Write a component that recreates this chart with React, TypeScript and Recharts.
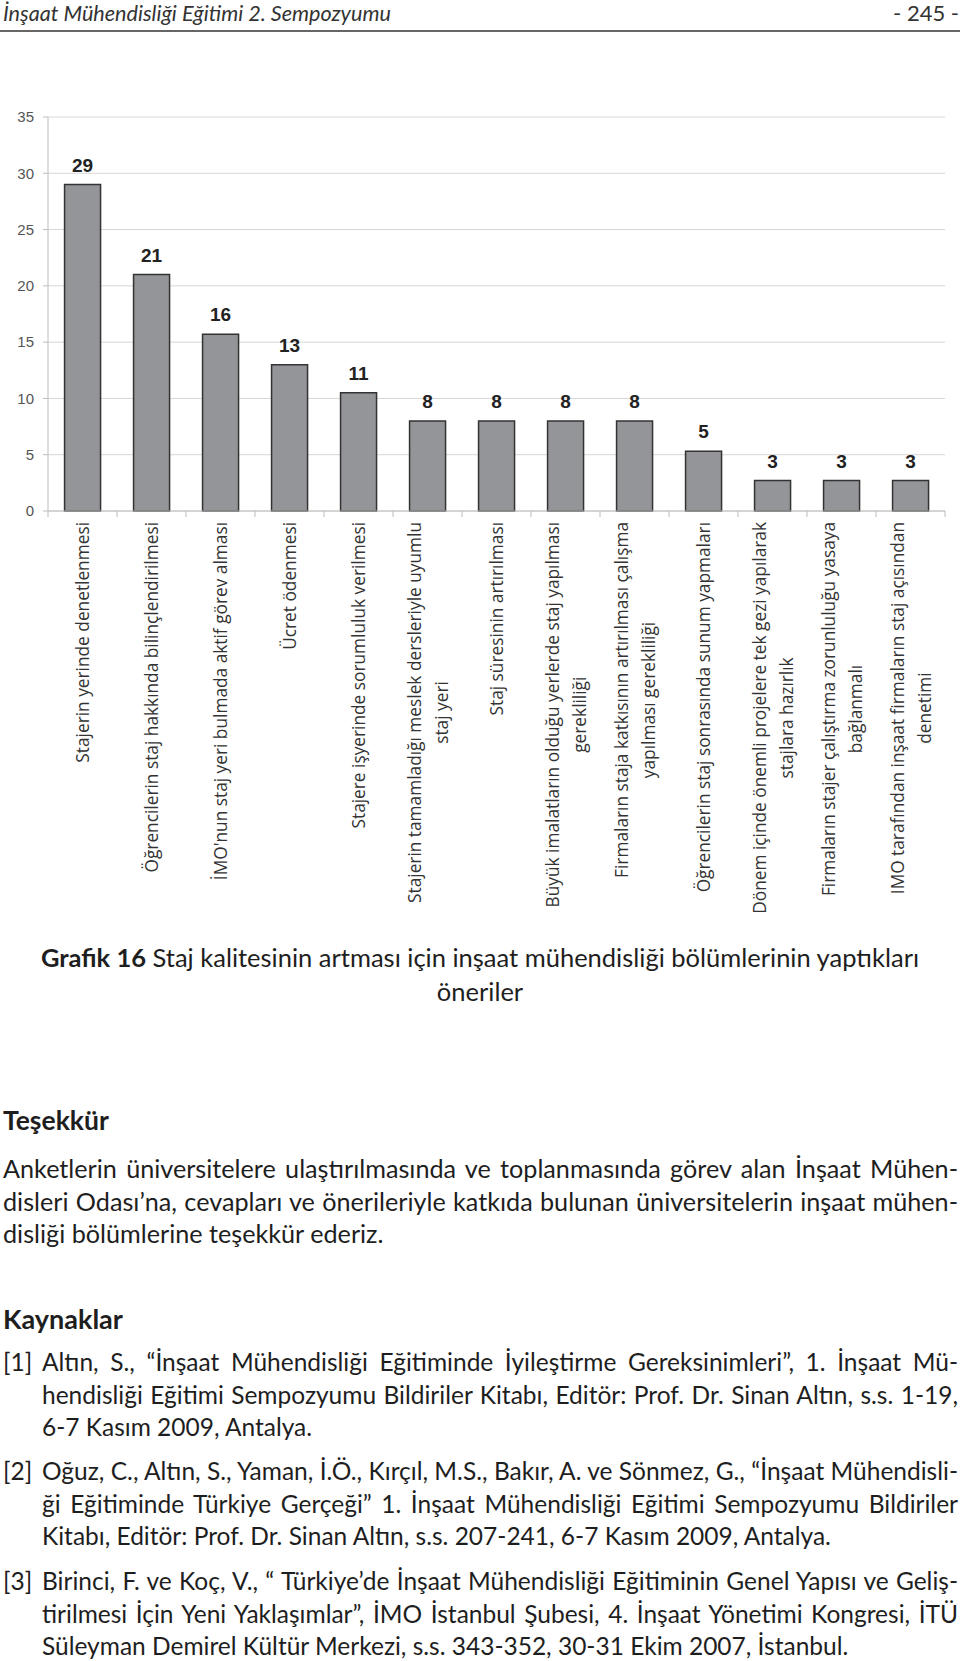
import { Bar, BarChart, CartesianGrid, LabelList, XAxis, YAxis } from 'recharts'

const categories = [
  'Stajerin yerinde denetlenmesi',
  'Öğrencilerin staj hakkında bilinçlendirilmesi',
  "İMO'nun staj yeri bulmada aktif görev alması",
  'Ücret ödenmesi',
  'Stajere işyerinde sorumluluk verilmesi',
  'Stajerin tamamladığı meslek dersleriyle uyumlu\nstaj yeri',
  'Staj süresinin artırılması',
  'Büyük imalatların olduğu yerlerde staj yapılması\ngerekliliği',
  'Firmaların staja katkısının artırılması çalışma\nyapılması gerekliliği',
  'Öğrencilerin staj sonrasında sunum yapmaları',
  'Dönem içinde önemli projelere tek gezi yapılarak\nstajlara hazırlık',
  'Firmaların stajer çalıştırma zorunluluğu yasaya\nbağlanmalı',
  'IMO tarafından inşaat firmaların staj açısından\ndenetimi',
]

// bar heights as drawn (labels show them rounded)
const counts = [29, 21, 15.7, 13, 10.5, 8, 8, 8, 8, 5.3, 2.7, 2.7, 2.7]

const yTicks = [0, 5, 10, 15, 20, 25, 30, 35]

const data = categories.map((name, i) => ({ name, value: counts[i] }))

const LABEL_SIZE = 17.3
const LABEL_FONT = `${LABEL_SIZE}px 'Open Sans'`

let ctx: CanvasRenderingContext2D | null = null
function textWidth(s: string) {
  if (!ctx) ctx = document.createElement('canvas').getContext('2d')
  if (!ctx) return s.length * 8
  ctx.font = LABEL_FONT
  return ctx.measureText(s).width
}

function CategoryTick(props: any) {
  const { x, y, payload, index } = props
  const half = payload.offset || 34.5
  const lines = String(payload.value).split('\n')
  const w = Math.max(...lines.map(textWidth))
  const last = index === categories.length - 1
  return (
    <g transform={`translate(${x},${y})`}>
      <line x1={-half} x2={-half} y1={0} y2={6} stroke="#bdbdbd" />
      {last && <line x1={half} x2={half} y1={0} y2={6} stroke="#bdbdbd" />}
      {lines.map((line, i) => (
        <text
          key={i}
          transform={`translate(${(i - (lines.length - 1) / 2) * 27},${11 + w / 2}) rotate(-90)`}
          textAnchor="middle"
          dominantBaseline="central"
          fontFamily="'Open Sans'"
          fontSize={LABEL_SIZE}
          fill="#333"
        >
          {line}
        </text>
      ))}
    </g>
  )
}

const thanks = [
  'Anketlerin üniversitelere ulaştırılmasında ve toplanmasında görev alan İnşaat Mühen-',
  'disleri Odası’na, cevapları ve önerileriyle katkıda bulunan üniversitelerin inşaat mühen-',
  'disliği bölümlerine teşekkür ederiz.',
]

const refs = [
  {
    no: '[1]',
    top: 1346,
    lines: [
      'Altın, S., “İnşaat Mühendisliği Eğitiminde İyileştirme Gereksinimleri”, 1. İnşaat Mü-',
      'hendisliği Eğitimi Sempozyumu Bildiriler Kitabı, Editör: Prof. Dr. Sinan Altın, s.s. 1-19,',
      '6-7 Kasım 2009, Antalya.',
    ],
  },
  {
    no: '[2]',
    top: 1455,
    lines: [
      'Oğuz, C., Altın, S., Yaman, İ.Ö., Kırçıl, M.S., Bakır, A. ve Sönmez, G., “İnşaat Mühendisli-',
      'ği Eğitiminde Türkiye Gerçeği” 1. İnşaat Mühendisliği Eğitimi Sempozyumu Bildiriler',
      'Kitabı, Editör: Prof. Dr. Sinan Altın, s.s. 207-241, 6-7 Kasım 2009, Antalya.',
    ],
  },
  {
    no: '[3]',
    top: 1565,
    lines: [
      'Birinci, F. ve Koç, V., “ Türkiye’de İnşaat Mühendisliği Eğitiminin Genel Yapısı ve Geliş-',
      'tirilmesi İçin Yeni Yaklaşımlar”, İMO İstanbul Şubesi, 4. İnşaat Yönetimi Kongresi, İTÜ',
      'Süleyman Demirel Kültür Merkezi, s.s. 343-352, 30-31 Ekim 2007, İstanbul.',
    ],
  },
]

const LINE_H = 32.7

function Lines({
  lines,
  left,
  top,
  width,
  size,
}: {
  lines: string[]
  left: number
  top: number
  width: number
  size: number
}) {
  return (
    <div style={{ position: 'absolute', left, top, width, fontSize: size }}>
      {lines.map((l, i) => (
        <div
          key={i}
          style={{
            height: LINE_H,
            lineHeight: `${LINE_H}px`,
            textAlign: 'justify',
            textAlignLast: i === lines.length - 1 ? 'left' : 'justify',
          }}
        >
          {l}
        </div>
      ))}
    </div>
  )
}

export default function App() {
  return (
    <div
      style={{
        position: 'absolute',
        left: 0,
        top: 0,
        width: 960,
        height: 1661,
        background: '#fff',
        overflow: 'hidden',
        fontFamily: 'Lato, sans-serif',
        color: '#1e1e1e',
      }}
    >
      <div style={{ position: 'absolute', left: 3, top: 0, lineHeight: '26px', fontSize: 21.6, fontStyle: 'italic', color: '#333' }}>
        İnşaat Mühendisliği Eğitimi 2. Sempozyumu
      </div>
      <div style={{ position: 'absolute', right: 1, top: 0, lineHeight: '26px', fontSize: 22, color: '#333' }}>- 245 -</div>
      <div style={{ position: 'absolute', left: 0, top: 30, width: 960, height: 1.5, background: '#666' }} />

      <div style={{ position: 'absolute', left: 0, top: 90 }}>
        <BarChart
          width={960}
          height={840}
          data={data}
          margin={{ top: 27, right: 15, bottom: 0, left: 8 }}
          barCategoryGap="24%"
        >
          <CartesianGrid vertical={false} stroke="#d6d6d6" />
          <XAxis
            dataKey="name"
            height={419}
            interval={0}
            tickSize={0}
            tickMargin={0}
            tickLine={false}
            axisLine={{ stroke: '#bdbdbd' }}
            tick={<CategoryTick />}
          />
          <YAxis
            domain={[0, 35]}
            ticks={yTicks}
            width={40}
            tickSize={5}
            tickMargin={9}
            axisLine={{ stroke: '#bdbdbd' }}
            tickLine={{ stroke: '#bdbdbd' }}
            tick={{ fill: '#555', fontSize: 15, fontFamily: "'Liberation Sans', Arial" }}
          />
          <YAxis
            yAxisId="frame"
            orientation="right"
            width={0}
            tick={false}
            tickLine={false}
            axisLine={{ stroke: '#cfcfcf' }}
          />
          <Bar dataKey="value" fill="#939598" stroke="#333" strokeWidth={1.5} isAnimationActive={false}>
            <LabelList
              dataKey="value"
              position="top"
              offset={13}
              formatter={(v: any) => Math.round(Number(v))}
              fill="#222"
              fontSize={19}
              fontWeight="bold"
              fontFamily="'Liberation Sans', Arial"
            />
          </Bar>
        </BarChart>
      </div>

      <div style={{ position: 'absolute', left: 0, top: 940, width: 960, textAlign: 'center', lineHeight: '34px', fontSize: 25.5 }}>
        <div>
          <b>Grafik 16</b> Staj kalitesinin artması için inşaat mühendisliği bölümlerinin yaptıkları
        </div>
        <div>öneriler</div>
      </div>

      <div style={{ position: 'absolute', left: 3, top: 1103, lineHeight: '34px', fontWeight: 'bold', fontSize: 26.5 }}>Teşekkür</div>
      <Lines lines={thanks} left={3} top={1152} width={955} size={25.2} />

      <div style={{ position: 'absolute', left: 3, top: 1302, lineHeight: '34px', fontWeight: 'bold', fontSize: 27 }}>Kaynaklar</div>
      {refs.map((r) => (
        <div key={r.no}>
          <div style={{ position: 'absolute', left: 3, top: r.top, lineHeight: `${LINE_H}px`, fontSize: 24.5 }}>{r.no}</div>
          <Lines lines={r.lines} left={42} top={r.top} width={916} size={24.5} />
        </div>
      ))}
    </div>
  )
}
